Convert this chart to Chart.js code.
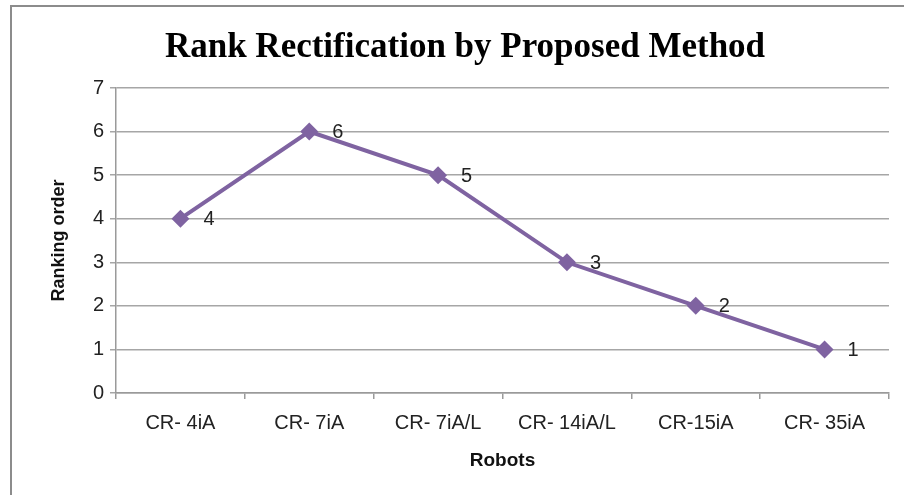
<!DOCTYPE html>
<html>
<head>
<meta charset="utf-8">
<script src="https://cdn.jsdelivr.net/npm/chart.js@4.4.0/dist/chart.umd.min.js"></script>
<style>
    html, body { margin: 0; padding: 0; background: #fff; overflow: hidden; }
    #frame {
        position: absolute; left: 10px; top: 5px;
        width: 892px; height: 488px;
        border-left: 2px solid #8c8c8c;
        border-top: 2px solid #8c8c8c;
    }
    #chart-rank { display: block; }
</style>
</head>
<body>
<div id="frame"><canvas id="chart-rank" width="892" height="488"></canvas></div>
<script>
// Data peringkat robot
const robots    = ['CR- 4iA', 'CR- 7iA', 'CR- 7iA/L', 'CR- 14iA/L', 'CR-15iA', 'CR- 35iA'];
const peringkat = [4, 6, 5, 3, 2, 1];
const yTicks    = [0, 1, 2, 3, 4, 5, 6, 7];
const judul     = 'Rank Rectification by Proposed Method';

const ungu = '#7f63a1';

// judul digambar sendiri supaya posisinya pas
const judulGrafik = {
    id: 'judulGrafik',
    afterDraw(chart) {
        const ctx = chart.ctx;
        ctx.save();
        ctx.font = 'bold 35px "Liberation Serif", "Times New Roman", serif';
        ctx.fillStyle = '#000';
        ctx.textAlign = 'center';
        ctx.textBaseline = 'alphabetic';
        ctx.fillText(judul, 453, 50);
        ctx.restore();
    }
};

// label nilai di kanan tiap titik
const labelNilai = {
    id: 'labelNilai',
    afterDatasetsDraw(chart) {
        const ctx = chart.ctx;
        const meta = chart.getDatasetMeta(0);
        ctx.save();
        ctx.font = '20px "Liberation Sans", Arial, sans-serif';
        ctx.fillStyle = '#222';
        ctx.textAlign = 'left';
        ctx.textBaseline = 'middle';
        meta.data.forEach((pt, i) => {
            ctx.fillText(String(peringkat[i]), pt.x + 23, pt.y + 1);
        });
        ctx.restore();
    }
};

const ctx = document.getElementById('chart-rank').getContext('2d');
new Chart(ctx, {
    type: 'line',
    data: {
        labels: robots,
        datasets: [{
            label: 'Ranking',
            data: peringkat,
            borderColor: ungu,
            backgroundColor: ungu,
            borderWidth: 4,
            pointStyle: 'rectRot',
            pointRadius: 9,
            pointBorderWidth: 0,
            tension: 0
        }]
    },
    options: {
        responsive: false,
        animation: false,
        layout: { padding: { left: 0, right: 15, top: 81, bottom: 0 } },
        plugins: {
            legend: { display: false },
            tooltip: { enabled: false },
            title: { display: false }
        },
        scales: {
            x: {
                offset: true,
                grid: {
                    offset: true,
                    drawOnChartArea: false,
                    drawTicks: true,
                    tickLength: 6,
                    color: '#9a9a9a',
                    lineWidth: 1.5
                },
                border: { color: '#9a9a9a', width: 1.5 },
                ticks: {
                    color: '#222',
                    padding: 12,
                    maxRotation: 0,
                    autoSkip: false,
                    font: { family: '"Liberation Sans", Arial, sans-serif', size: 20 }
                },
                title: {
                    display: true,
                    text: 'Robots',
                    color: '#111',
                    font: { family: '"Liberation Sans", Arial, sans-serif', size: 19, weight: 'bold' },
                    padding: { top: 4, bottom: 23 }
                },
                afterFit(scale) { scale.height = 102; }
            },
            y: {
                min: 0,
                max: 7,
                afterBuildTicks(scale) { scale.ticks = yTicks.map(v => ({ value: v })); },
                grid: {
                    color: '#a6a6a6',
                    lineWidth: 1.5,
                    tickLength: 6
                },
                border: { color: '#9a9a9a', width: 1.5 },
                ticks: {
                    color: '#222',
                    padding: 6,
                    font: { family: '"Liberation Sans", Arial, sans-serif', size: 20 }
                },
                title: {
                    display: true,
                    text: 'Ranking order',
                    color: '#111',
                    font: { family: '"Liberation Sans", Arial, sans-serif', size: 18, weight: 'bold' },
                    padding: { top: 36, bottom: 10 }
                },
                afterFit(scale) { scale.width = 104; }
            }
        }
    },
    plugins: [labelNilai, judulGrafik]
});
</script>
</body>
</html>
